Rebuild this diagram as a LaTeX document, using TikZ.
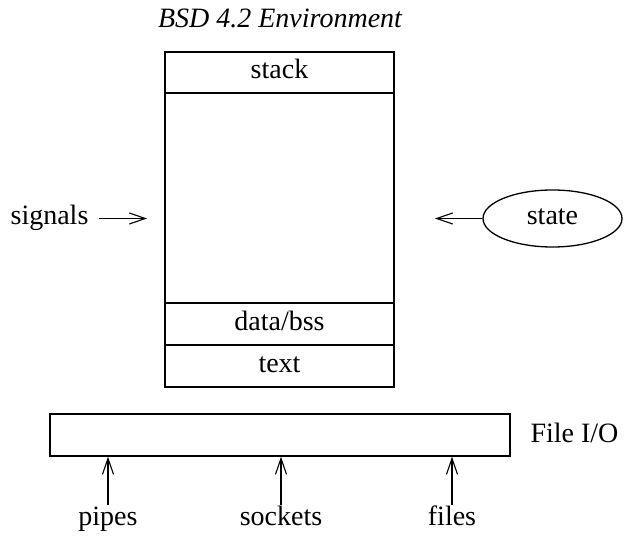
\documentclass[tikz,border=0pt]{standalone}
\usepackage{fontspec}
\setmainfont{Liberation Serif}
\usetikzlibrary{arrows.meta,shapes.geometric}
\tikzset{
  lbl/.style={inner sep=0pt, text height=20pt, text depth=7pt, font=\fontsize{28}{34}\selectfont},
  seg/.style={draw, line width=1.3pt, minimum width=229pt, inner sep=0pt, text height=20pt, text depth=7pt, font=\fontsize{28}{34}\selectfont},
  conn/.style={line width=1.1pt, -{Straight Barb[length=16pt,width=11pt,line width=1.1pt]}},
}
\begin{document}
\begin{tikzpicture}[x=1pt,y=-1pt]
\useasboundingbox (0,0) rectangle (624,537);
\node[lbl, font=\fontsize{28}{34}\selectfont\itshape] (title) at (280,21.5) {BSD 4.2 Environment};
\node[seg, minimum height=41pt] (stack) at (279.5,72.5) {stack};
\node[seg, minimum height=210pt] (mid) at (279.5,198) {};
\node[seg, minimum height=42pt] (data) at (279.5,324) {data/bss};
\node[seg, minimum height=42pt] (text) at (279.5,366) {text};
\node[draw, line width=1.3pt, minimum width=460pt, minimum height=42pt, inner sep=0pt] (fileio) at (280,435) {};
\node[lbl] (filelbl) at (574.5,435.5) {File I/O};
\node[lbl] (signals) at (49.5,218.5) {signals};
\coordinate (sigend) at (147,218.5);
\draw[conn, shorten <=10pt] (signals.east) -- (sigend);
\node[draw, ellipse, line width=1.3pt, minimum width=139pt, minimum height=57pt, inner sep=0pt, font=\fontsize{28}{34}\selectfont, text height=20pt, text depth=7pt] (state) at (552.5,218.5) {state};
\coordinate (stend) at (435,218.5);
\draw[conn] (state.west) -- (stend);
\node[lbl] (pipes) at (108,518.5) {pipes};
\node[lbl] (sockets) at (281,518.5) {sockets};
\node[lbl] (files) at (452,518.5) {files};
\draw[conn] (pipes.north) -- (pipes.north |- fileio.south);
\draw[conn] (sockets.north) -- (sockets.north |- fileio.south);
\draw[conn] (files.north) -- (files.north |- fileio.south);
\end{tikzpicture}
\end{document}
